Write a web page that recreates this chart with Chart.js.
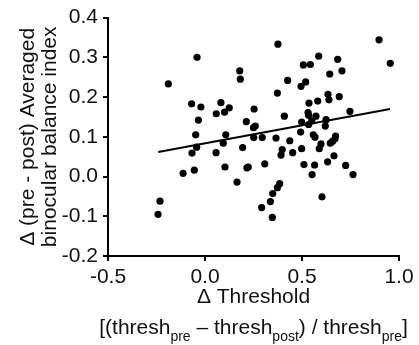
<!DOCTYPE html>
<html>
<head>
<meta charset="utf-8">
<script src="https://cdn.jsdelivr.net/npm/chart.js@4.4.0/dist/chart.umd.min.js"></script>
<style>
  html, body { margin: 0; padding: 0; background: #fff; }
  #chart { display: block; }
</style>
</head>
<body>
<canvas id="chart" width="419" height="345"></canvas>
<script>
// Δ Threshold (x) and Δ averaged binocular balance index (y)
const deltaThreshold = [
  -0.189, -0.041, -0.069, -0.021, -0.034, -0.048, 0.082, 0.125, 0.101, 0.058,
  0.179, 0.182, 0.253, 0.213, 0.259, 0.250, 0.107, 0.251, 0.376, 0.897,
  0.955, 0.586, 0.684, 0.507, 0.543, 0.643, 0.706, 0.426, 0.519, 0.495,
  0.373, 0.634, 0.639, 0.692, 0.536, 0.581, 0.747, 0.409, 0.531, 0.534,
  0.572, 0.498, 0.550, 0.624, 0.534, 0.620, 0.493, 0.558, 0.567, 0.295,
  0.366, 0.437, 0.673, 0.670, 0.658, 0.646, 0.598, 0.589, -0.043, -0.067,
  0.094, 0.057, 0.194, 0.398, 0.392, 0.452, 0.498, -0.113, -0.055, 0.103,
  0.223, 0.216, 0.165, -0.232, -0.242, 0.308, 0.510, 0.565, 0.552, 0.632,
  0.665, 0.725, 0.763, 0.385, 0.373, 0.349, 0.337, 0.292, 0.347, 0.603
];
const deltaBalance = [
  0.233, 0.300, 0.183, 0.175, 0.142, 0.105, 0.186, 0.173, 0.162, 0.158,
  0.266, 0.245, 0.170, 0.138, 0.127, 0.123, 0.105, 0.098, 0.333, 0.344,
  0.285, 0.303, 0.295, 0.281, 0.282, 0.258, 0.266, 0.242, 0.238, 0.227,
  0.210, 0.207, 0.193, 0.201, 0.185, 0.190, 0.164, 0.152, 0.161, 0.154,
  0.152, 0.137, 0.140, 0.143, 0.131, 0.127, 0.112, 0.105, 0.099, 0.098,
  0.097, 0.090, 0.102, 0.095, 0.089, 0.084, 0.082, 0.070, 0.074, 0.059,
  0.084, 0.060, 0.073, 0.068, 0.054, 0.060, 0.070, 0.008, 0.016, 0.024,
  0.024, 0.022, -0.014, -0.062, -0.095, 0.032, 0.030, 0.029, 0.005, 0.037,
  0.052, 0.028, 0.005, -0.018, -0.028, -0.043, -0.063, -0.078, -0.103, -0.051
];

// regression line end points
const fitX = [-0.241, 0.954];
const fitY = [0.062, 0.170];

const xRange = [-0.5, 1.0];
const xStep = 0.5;
const yRange = [-0.2, 0.4];
const yStep = 0.1;

const yTitleLines = ['Δ (pre - post) Averaged', 'binocular balance index'];
const xTitleLine1 = 'Δ Threshold';
// [text, isSubscript]
const xTitleLine2 = [
  ['[(thresh', false], ['pre', true], [' \u2013 thresh', false], ['post', true],
  [') / thresh', false], ['pre', true], [']', false]
];

const FONT = '"Liberation Sans", Arial, sans-serif';
const INK = '#111';

const scatterPts = deltaThreshold.map((x, i) => ({ x: x, y: deltaBalance[i] }));
const fitPts = fitX.map((x, i) => ({ x: x, y: fitY[i] }));

const titlePlugin = {
  id: 'titles',
  afterDraw(chart){
    const ctx = chart.ctx;
    const area = chart.chartArea;
    const cx = (area.left + area.right) / 2;
    const cy = (area.top + area.bottom) / 2;
    ctx.save();
    ctx.fillStyle = INK;
    ctx.textBaseline = 'alphabetic';

    // y title, rotated
    ctx.font = '21px ' + FONT;
    ctx.textAlign = 'center';
    const baseX = [34, 56];
    yTitleLines.forEach((t, i) => {
      ctx.save();
      ctx.translate(baseX[i], cy);
      ctx.rotate(-Math.PI / 2);
      ctx.fillText(t, 0, 0);
      ctx.restore();
    });

    // x title line 1
    ctx.fillText(xTitleLine1, cx, 303);

    // x title line 2 with subscripts
    ctx.textAlign = 'left';
    const big = '21px ' + FONT, small = '14px ' + FONT;
    let total = 0;
    xTitleLine2.forEach(([t, sub]) => { ctx.font = sub ? small : big; total += ctx.measureText(t).width; });
    let x = cx - total / 2;
    xTitleLine2.forEach(([t, sub]) => {
      ctx.font = sub ? small : big;
      ctx.fillText(t, x, sub ? 341 : 334);
      x += ctx.measureText(t).width;
    });
    ctx.restore();
  }
};

new Chart(document.getElementById('chart'), {
  type: 'scatter',
  data: {
    datasets: [
      {
        data: scatterPts,
        backgroundColor: '#000',
        borderWidth: 0,
        pointRadius: 3.6,
        pointHoverRadius: 3.6
      },
      {
        type: 'line',
        data: fitPts,
        borderColor: '#000',
        borderWidth: 2,
        pointRadius: 0,
        fill: false
      }
    ]
  },
  options: {
    responsive: false,
    animation: false,
    events: [],
    layout: { padding: { top: 14, right: 20, left: 0, bottom: 0 } },
    plugins: { legend: { display: false }, tooltip: { enabled: false } },
    scales: {
      x: {
        type: 'linear',
        min: xRange[0], max: xRange[1],
        ticks: {
          stepSize: xStep,
          color: INK,
          padding: 4,
          font: { family: FONT, size: 21 },
          callback: (v)=> Number(v).toFixed(1)
        },
        grid: { drawOnChartArea: false, drawTicks: true, tickLength: 5, color: '#000', lineWidth: 2 },
        border: { display: true, color: '#000', width: 2 },
        afterFit: (s)=>{ s.height = 89; }
      },
      y: {
        type: 'linear',
        min: yRange[0], max: yRange[1],
        ticks: {
          stepSize: yStep,
          color: INK,
          padding: 5,
          font: { family: FONT, size: 21 },
          callback: (v)=> Number(v).toFixed(1)
        },
        grid: { drawOnChartArea: false, drawTicks: true, tickLength: 5, color: '#000', lineWidth: 2 },
        border: { display: true, color: '#000', width: 2 },
        afterFit: (s)=>{ s.width = 108; }
      }
    }
  },
  plugins: [titlePlugin]
});
</script>
</body>
</html>
